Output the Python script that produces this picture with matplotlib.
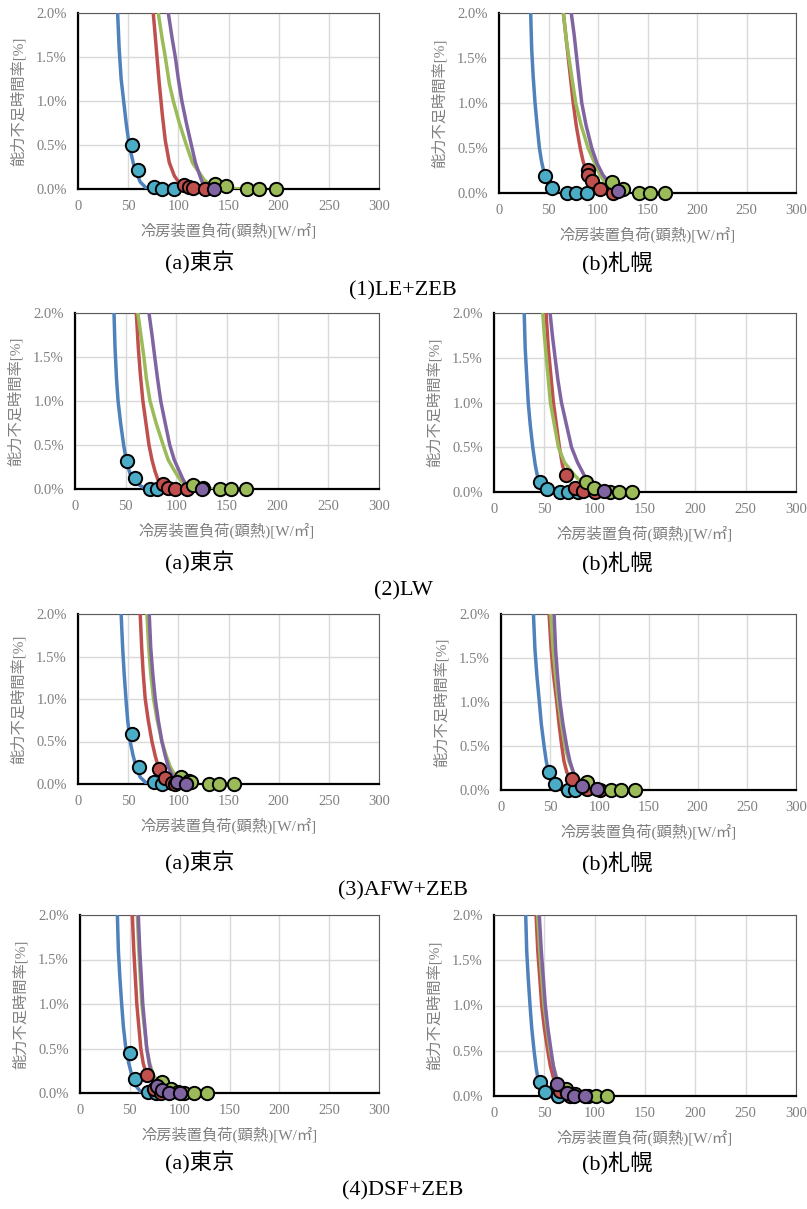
import matplotlib
matplotlib.use("Agg")
import matplotlib.pyplot as plt
from matplotlib.ticker import FuncFormatter

plt.rcParams['font.family'] = ['Liberation Serif', 'Noto Sans CJK JP', 'DejaVu Sans']

# ---- data (x: W/m2, y: %) ----
# (1) LE+ZEB  Tokyo
le_tk_blue = [(39.5, 2.0), (41, 1.6), (43, 1.25), (45.5, 1.0), (48, 0.75), (51, 0.5), (56, 0.25), (62, 0.08), (69, 0.0)]
le_tk_red = [(75, 2.0), (78, 1.6), (81, 1.2), (84, 0.85), (87, 0.55), (91, 0.3), (96, 0.15), (102, 0.05), (108, 0.0)]
le_tk_green = [(80, 2.0), (84, 1.7), (87, 1.5), (91, 1.2), (95, 1.0), (101, 0.75), (108, 0.5), (114, 0.3), (120, 0.2),
               (126, 0.1), (132, 0.05), (145, 0.01), (165, 0.0)]
le_tk_purple = [(90, 2.0), (94, 1.7), (97, 1.5), (100, 1.25), (103.5, 1.0), (108, 0.75), (113, 0.5), (117, 0.3),
                (120, 0.2), (123, 0.1), (125, 0.05)]
le_tk_pts_cyan = [(53.5, 0.50), (59.5, 0.22), (75.5, 0.02), (84, 0.0), (96, 0.0)]
le_tk_pts_red = [(106, 0.05), (111, 0.02), (115, 0.01), (127, 0.0)]
le_tk_pts_green = [(137, 0.06), (148, 0.03), (168, 0.0), (180, 0.0), (197, 0.0)]
le_tk_pts_purple = [(136, 0.0)]

# (1) LE+ZEB  Sapporo
le_sp_blue = [(32, 2.0), (33, 1.6), (34.5, 1.3), (36.4, 1.0), (38.5, 0.75), (40.8, 0.5), (43, 0.35), (45, 0.25)]
le_sp_red = [(65, 2.0), (68, 1.7), (71, 1.4), (75, 1.0), (78, 0.75), (82, 0.5), (85, 0.35), (88, 0.25)]
le_sp_green = [(65, 2.0), (68, 1.7), (72, 1.4), (77.5, 1.0), (83, 0.75), (90, 0.5), (96, 0.35), (102, 0.2),
               (108, 0.1), (113, 0.03), (116, 0.0)]
le_sp_purple = [(73, 2.0), (76, 1.75), (78.5, 1.5), (81, 1.25), (83.6, 1.0), (88, 0.75), (93.7, 0.5), (99, 0.33),
                (105, 0.2), (110, 0.13)]
le_sp_pts_cyan = [(46, 0.19), (54, 0.055), (68.5, 0.0), (77.5, 0.0), (89, 0.0)]
le_sp_pts_red = [(89.5, 0.26), (90, 0.2), (93.5, 0.13), (102.5, 0.04), (115, 0.0)]
le_sp_pts_green = [(114, 0.12), (125, 0.04), (141, 0.0), (153, 0.0), (168, 0.0)]
le_sp_pts_purple = [(120, 0.02)]

# (2) LW  Tokyo
lw_tk_blue = [(38.5, 2.0), (39.5, 1.6), (41, 1.25), (42.5, 1.0), (45, 0.75), (48, 0.5), (51, 0.3), (55, 0.15),
              (60, 0.07), (70, 0.0)]
lw_tk_red = [(60.5, 2.0), (62.5, 1.6), (64.5, 1.3), (67, 1.0), (70, 0.75), (73, 0.5), (76, 0.33), (79, 0.2),
             (83.5, 0.05)]
lw_tk_green = [(62, 2.0), (65, 1.75), (68, 1.5), (70.5, 1.25), (74, 1.0), (80, 0.75), (87, 0.5), (92, 0.33),
               (98.5, 0.2), (104, 0.1), (108, 0.05), (120, 0.01), (135, 0.0)]
lw_tk_purple = [(73, 2.0), (76, 1.75), (78.7, 1.5), (81.5, 1.25), (84.6, 1.0), (89, 0.75), (93.5, 0.5), (98, 0.33),
                (103, 0.2), (107, 0.1), (110, 0.05)]
lw_tk_pts_cyan = [(51, 0.32), (59, 0.12), (74, 0.0), (81, 0.0)]
lw_tk_pts_red = [(86.5, 0.055), (92, 0.01), (99, 0.0), (110.5, 0.0)]
lw_tk_pts_green = [(116, 0.05), (126, 0.01), (143, 0.0), (154, 0.0), (169, 0.0)]
lw_tk_pts_purple = [(125, 0.0)]

# (2) LW  Sapporo
lw_sp_blue = [(30, 2.0), (31, 1.6), (32.5, 1.3), (34, 1.0), (36, 0.75), (38.5, 0.5), (41, 0.3), (44, 0.13)]
lw_sp_red = [(51.7, 2.0), (54, 1.6), (56.5, 1.3), (59, 1.0), (62, 0.75), (65, 0.5), (68, 0.3), (70.5, 0.2)]
lw_sp_green = [(48.4, 2.0), (50, 1.75), (52, 1.5), (54, 1.25), (56, 1.0), (60, 0.75), (64, 0.5), (70, 0.33),
               (79, 0.2), (85, 0.13), (90, 0.1)]
lw_sp_purple = [(55.7, 2.0), (58, 1.75), (60.7, 1.5), (63.5, 1.25), (67, 1.0), (72, 0.75), (77, 0.5), (83, 0.33),
                (89, 0.2), (93, 0.12)]
lw_sp_pts_cyan = [(46, 0.11), (52.5, 0.03), (66, 0.0), (74, 0.0), (83, 0.0)]
lw_sp_pts_red = [(72, 0.19), (80, 0.05), (88, 0.01), (100, 0.0)]
lw_sp_pts_green = [(91, 0.115), (99.5, 0.04), (115, 0.0), (124, 0.0), (137.5, 0.0)]
lw_sp_pts_purple = [(109.5, 0.01)]

# (3) AFW+ZEB  Tokyo
afw_tk_blue = [(43, 2.0), (44.5, 1.6), (46, 1.3), (47.8, 1.0), (49.5, 0.75), (52, 0.5), (55, 0.33), (58, 0.2),
               (62, 0.08), (69, 0.0)]
afw_tk_red = [(62, 2.0), (63.5, 1.6), (65, 1.3), (67, 1.0), (70, 0.75), (73.7, 0.5), (77, 0.33), (80, 0.2),
              (85, 0.08), (90, 0.0)]
afw_tk_green = [(68.7, 2.0), (70.5, 1.6), (72.5, 1.3), (75.3, 1.0), (79, 0.75), (83.6, 0.5), (88, 0.33), (92, 0.2),
                (97, 0.1), (100, 0.08)]
afw_tk_purple = [(71, 2.0), (72.5, 1.6), (74.5, 1.3), (77, 1.0), (80, 0.75), (83.6, 0.5), (87, 0.33), (90, 0.2),
                 (94, 0.1), (97, 0.05)]
afw_tk_pts_cyan = [(53.8, 0.59), (61, 0.2), (75.3, 0.02), (84, 0.0)]
afw_tk_pts_red = [(81, 0.18), (87, 0.07), (94, 0.01), (97, 0.0)]
afw_tk_pts_green = [(103, 0.08), (111, 0.03), (113, 0.02), (131, 0.0), (141, 0.0), (155, 0.0)]
afw_tk_pts_purple = [(99, 0.025), (108, 0.0)]

# (3) AFW+ZEB  Sapporo
afw_sp_blue = [(33, 2.0), (34.5, 1.6), (36.5, 1.3), (39, 1.0), (41, 0.75), (43.8, 0.5), (46, 0.33), (48, 0.21)]
afw_sp_red = [(48.9, 2.0), (51, 1.6), (53.5, 1.3), (56.7, 1.0), (59, 0.75), (61.8, 0.5), (64, 0.33), (67, 0.2),
              (71, 0.13)]
afw_sp_green = [(50.6, 2.0), (53, 1.6), (55.5, 1.3), (58.4, 1.0), (61.5, 0.75), (65, 0.5), (69, 0.33), (73.6, 0.2),
                (80, 0.12), (86, 0.08)]
afw_sp_purple = [(54, 2.0), (55.5, 1.6), (57.5, 1.3), (60, 1.0), (63, 0.75), (66.8, 0.5), (70, 0.33), (73.6, 0.2),
                 (78, 0.1), (82, 0.05)]
afw_sp_pts_cyan = [(48.9, 0.21), (55, 0.065), (68.5, 0.0), (75.7, 0.0)]
afw_sp_pts_red = [(72, 0.13), (87, 0.01), (100.8, 0.0)]
afw_sp_pts_green = [(87, 0.095), (111.6, 0.0), (121.8, 0.0), (136, 0.0)]
afw_sp_pts_purple = [(82.5, 0.045), (97.4, 0.01)]

# (4) DSF+ZEB  Tokyo
dsf_tk_blue = [(37.5, 2.0), (38.5, 1.6), (40, 1.3), (41.8, 1.0), (43.5, 0.75), (46, 0.5), (49, 0.33), (52, 0.2),
               (56, 0.08), (62, 0.0)]
dsf_tk_red = [(52.5, 2.0), (54, 1.6), (55.5, 1.3), (57, 1.0), (59, 0.75), (61, 0.5), (63.5, 0.33), (67, 0.2)]
dsf_tk_green = [(57.5, 2.0), (59, 1.6), (60.5, 1.3), (62, 1.0), (64.5, 0.75), (67, 0.5), (70, 0.33), (73.6, 0.2),
                (78, 0.13), (82, 0.12)]
dsf_tk_purple = [(58.5, 2.0), (60, 1.6), (61.5, 1.3), (63, 1.0), (65, 0.75), (67, 0.5), (69.5, 0.33), (72, 0.2),
                 (76, 0.08)]
dsf_tk_pts_cyan = [(49.8, 0.45), (55.5, 0.157), (68.5, 0.01), (76, 0.0)]
dsf_tk_pts_red = [(67, 0.2), (74, 0.05), (81, 0.0)]
dsf_tk_pts_green = [(82.6, 0.127), (91, 0.05), (98.7, 0.01), (104.7, 0.0), (114.7, 0.0), (127, 0.0)]
dsf_tk_pts_purple = [(77, 0.082), (82, 0.03), (89.6, 0.0), (100, 0.0)]

# (4) DSF+ZEB  Sapporo
dsf_sp_blue = [(31.5, 2.0), (32.5, 1.6), (34, 1.3), (35.8, 1.0), (37.5, 0.75), (39.8, 0.5), (42, 0.3), (44, 0.17)]
dsf_sp_red = [(41.8, 2.0), (43.5, 1.6), (45.5, 1.3), (47.4, 1.0), (50, 0.75), (53.4, 0.5), (56, 0.33), (59, 0.2),
              (62, 0.1)]
dsf_sp_green = [(43.4, 2.0), (45.5, 1.6), (47.5, 1.3), (49.7, 1.0), (52.5, 0.75), (55.7, 0.5), (59, 0.33),
                (62.3, 0.2), (67, 0.12), (72, 0.08)]
dsf_sp_purple = [(45, 2.0), (47, 1.6), (49, 1.3), (51, 1.0), (53.5, 0.75), (56.7, 0.5), (59, 0.33), (61.6, 0.2),
                 (63, 0.13)]
dsf_sp_pts_cyan = [(45.7, 0.155), (51, 0.04), (63.3, 0.0)]
dsf_sp_pts_red = [(66, 0.05), (75, 0.0)]
dsf_sp_pts_green = [(72, 0.08), (80, 0.02), (93, 0.0), (101, 0.0), (112, 0.0)]
dsf_sp_pts_purple = [(62.3, 0.13), (72.3, 0.03), (79.5, 0.0), (90.8, 0.0)]

group_titles = ["(1)LE+ZEB", "(2)LW", "(3)AFW+ZEB", "(4)DSF+ZEB"]
city_captions = ["(a)東京", "(b)札幌"]
x_ticks = [0, 50, 100, 150, 200, 250, 300]
y_ticks = [0.0, 0.5, 1.0, 1.5, 2.0]
xlabel = "冷房装置負荷(顕熱)[W/㎡]"
ylabel = "能力不足時間率[%]"

line_colors = ["#4F81BD", "#C0504D", "#9BBB59", "#8064A2"]
marker_colors = ["#4BACC6", "#C0504D", "#9BBB59", "#8064A2"]

panels = [
    ([le_tk_blue, le_tk_red, le_tk_green, le_tk_purple],
     [le_tk_pts_cyan, le_tk_pts_red, le_tk_pts_green, le_tk_pts_purple]),
    ([le_sp_blue, le_sp_red, le_sp_green, le_sp_purple],
     [le_sp_pts_cyan, le_sp_pts_red, le_sp_pts_green, le_sp_pts_purple]),
    ([lw_tk_blue, lw_tk_red, lw_tk_green, lw_tk_purple],
     [lw_tk_pts_cyan, lw_tk_pts_red, lw_tk_pts_green, lw_tk_pts_purple]),
    ([lw_sp_blue, lw_sp_red, lw_sp_green, lw_sp_purple],
     [lw_sp_pts_cyan, lw_sp_pts_red, lw_sp_pts_green, lw_sp_pts_purple]),
    ([afw_tk_blue, afw_tk_red, afw_tk_green, afw_tk_purple],
     [afw_tk_pts_cyan, afw_tk_pts_red, afw_tk_pts_green, afw_tk_pts_purple]),
    ([afw_sp_blue, afw_sp_red, afw_sp_green, afw_sp_purple],
     [afw_sp_pts_cyan, afw_sp_pts_red, afw_sp_pts_green, afw_sp_pts_purple]),
    ([dsf_tk_blue, dsf_tk_red, dsf_tk_green, dsf_tk_purple],
     [dsf_tk_pts_cyan, dsf_tk_pts_red, dsf_tk_pts_green, dsf_tk_pts_purple]),
    ([dsf_sp_blue, dsf_sp_red, dsf_sp_green, dsf_sp_purple],
     [dsf_sp_pts_cyan, dsf_sp_pts_red, dsf_sp_pts_green, dsf_sp_pts_purple]),
]

# axes boxes in pixels: left, right, top, bottom
W, H = 807, 1209
boxes = [
    (78, 379, 13, 189), (499, 796, 13, 193),
    (75, 379, 313, 489), (494, 796, 313, 492),
    (78, 379, 614, 784), (501, 796, 614, 790),
    (80, 379, 915, 1093), (494, 796, 915, 1096),
]

fig = plt.figure(figsize=(W / 100, H / 100), dpi=100)
gray = "#7f7f7f"

for i, ((lines, pts), (l, r, t, b)) in enumerate(zip(panels, boxes)):
    ax = fig.add_axes([l / W, 1 - b / H, (r - l) / W, (b - t) / H])
    for data, c in zip(lines, line_colors):
        xs = [p[0] for p in data]
        ys = [p[1] for p in data]
        ax.plot(xs, ys, color=c, lw=2.5, solid_capstyle="round", zorder=3)
    for data, c in zip(pts, marker_colors):
        xs = [p[0] for p in data]
        ys = [p[1] for p in data]
        ax.scatter(xs, ys, s=92, facecolor=c, edgecolor="black", linewidth=1.4, zorder=4, clip_on=False)
    ax.set_xlim(0, 300)
    ax.set_ylim(0, 2.0)
    ax.set_xticks(x_ticks)
    ax.set_yticks(y_ticks)
    ax.yaxis.set_major_formatter(FuncFormatter(lambda v, p: "%.1f%%" % v))
    ax.grid(True, color="#d9d9d9", lw=1.0, zorder=0)
    ax.set_axisbelow(True)
    ax.tick_params(length=0, pad=8, labelsize=10.5, labelcolor=gray)
    for s in ["top", "right"]:
        ax.spines[s].set_color("#595959")
        ax.spines[s].set_linewidth(0.8)
    for s in ["left", "bottom"]:
        ax.spines[s].set_color("black")
        ax.spines[s].set_linewidth(1.6)
    ax.set_xlabel(xlabel, fontsize=11, color=gray, labelpad=7)
    ax.set_ylabel(ylabel, fontsize=11, color=gray, labelpad=7)

    row, col = divmod(i, 2)
    cap_x = 200 if col == 0 else 617
    fig.text(cap_x / W, 1 - (263 + 300 * row) / H, city_captions[col], fontsize=16,
             ha="center", va="center")

for row, title in enumerate(group_titles):
    fig.text(403 / W, 1 - (291 + 300 * row) / H, title, fontsize=16, ha="center", va="center")

fig.savefig("out.png", dpi=100)
